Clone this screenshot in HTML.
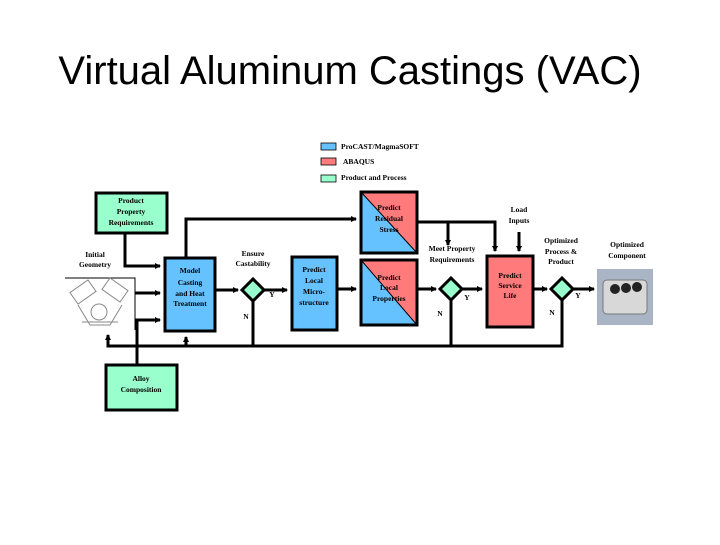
<!DOCTYPE html>
<html><head><style>
html,body{margin:0;padding:0;background:#fff;}
svg text{font-family:"Liberation Serif",serif;}
</style></head><body>
<svg width="720" height="540" xmlns="http://www.w3.org/2000/svg">
<defs>
<marker id="a" markerWidth="6" markerHeight="6" refX="5" refY="3" orient="auto" markerUnits="userSpaceOnUse"><path d="M0,0 L6,3 L0,6z" fill="#000"/></marker>
</defs>
<text x="350" y="84" font-size="40" text-anchor="middle" style="font-family:'Liberation Sans',sans-serif">Virtual Aluminum Castings (VAC)</text>
<!-- legend -->
<rect x="321" y="143" width="15" height="7" fill="#66c2ff" stroke="#000" stroke-width="0.8"/>
<rect x="321" y="158" width="15" height="7" fill="#ff7b7b" stroke="#000" stroke-width="0.8"/>
<rect x="321" y="175" width="15" height="7" fill="#99ffcc" stroke="#000" stroke-width="0.8"/>
<g font-size="7.5" font-weight="bold">
<text x="341" y="149">ProCAST/MagmaSOFT</text>
<text x="343" y="164">ABAQUS</text>
<text x="341" y="180">Product and Process</text>
</g>
<g stroke="#000" stroke-width="3" fill="none">
<polyline points="125,233 125,266 160,266" marker-end="url(#a)"/>
<polyline points="186,258 186,219 356,219" marker-end="url(#a)"/>
<line x1="135" y1="293" x2="160" y2="293" marker-end="url(#a)"/>
<polyline points="137,365 137,320 160,320" marker-end="url(#a)"/>
<line x1="215" y1="290" x2="238" y2="290" marker-end="url(#a)"/>
<line x1="264" y1="290" x2="287" y2="290" marker-end="url(#a)"/>
<line x1="337" y1="289" x2="356" y2="289" marker-end="url(#a)"/>
<line x1="417" y1="289" x2="436" y2="289" marker-end="url(#a)"/>
<line x1="462" y1="289" x2="482" y2="289" marker-end="url(#a)"/>
<line x1="533" y1="289" x2="547" y2="289" marker-end="url(#a)"/>
<line x1="573" y1="289" x2="594" y2="289" marker-end="url(#a)"/>
<polyline points="417,222 495,222 495,251" marker-end="url(#a)"/>
<line x1="448" y1="222" x2="448" y2="245" marker-end="url(#a)"/>
<line x1="519" y1="232" x2="519" y2="251" marker-end="url(#a)"/>
<polyline points="253,300 253,346 562,346 562,300"/>
<line x1="451" y1="300" x2="451" y2="346"/>
<polyline points="253,346 108,346 108,335" marker-end="url(#a)"/>
<line x1="186" y1="346" x2="186" y2="337" marker-end="url(#a)"/>
</g>
<!-- engine outline image -->
<polyline points="65,278 135,278 135,330" fill="none" stroke="#000" stroke-width="1"/>
<g fill="none" stroke="#888" stroke-width="1">
<rect x="72" y="285" width="22" height="14" transform="rotate(-35 83 292)"/>
<rect x="104" y="283" width="22" height="14" transform="rotate(35 115 290)"/>
<circle cx="99" cy="312" r="8"/>
<path d="M78,305 L90,325 L110,325 L122,305 M82,322 L118,322"/>
</g>
<!-- boxes -->
<g stroke="#000" stroke-width="3">
<rect x="96" y="193" width="71" height="40" fill="#99ffcc"/>
<rect x="165" y="258" width="50" height="73" fill="#66c2ff"/>
<rect x="292" y="257" width="45" height="73" fill="#66c2ff"/>
<rect x="487" y="256" width="46" height="71" fill="#ff7b7b"/>
<rect x="106" y="365" width="71" height="45" fill="#99ffcc"/>
</g>
<polygon points="361,192 417,192 417,253" fill="#ff7b7b"/>
<polygon points="361,192 417,253 361,253" fill="#66c2ff"/>
<line x1="361" y1="192" x2="417" y2="253" stroke="#000" stroke-width="1"/>
<rect x="361" y="192" width="56" height="61" fill="none" stroke="#000" stroke-width="3"/>
<polygon points="361,260 417,260 417,325" fill="#ff7b7b"/>
<polygon points="361,260 417,325 361,325" fill="#66c2ff"/>
<line x1="361" y1="260" x2="417" y2="325" stroke="#000" stroke-width="1"/>
<rect x="361" y="260" width="56" height="65" fill="none" stroke="#000" stroke-width="3"/>
<g fill="#99ffcc" stroke="#000" stroke-width="3">
<polygon points="253,279 264,290 253,301 242,290"/>
<polygon points="451,278 462,289 451,300 440,289"/>
<polygon points="562,278 573,289 562,300 551,289"/>
</g>
<!-- component photo -->
<rect x="597" y="269" width="56" height="56" fill="#a9b4c4"/>
<rect x="603" y="280" width="44" height="34" rx="4" fill="#d8d8d8" stroke="#777"/>
<circle cx="615" cy="289" r="5" fill="#222"/><circle cx="626" cy="288" r="5" fill="#222"/><circle cx="637" cy="287" r="5" fill="#222"/>
<g font-size="7.5" font-weight="bold" text-anchor="middle">
<text x="131" y="203">Product</text><text x="131" y="214">Property</text><text x="131" y="225">Requirements</text>
<text x="95" y="257">Initial</text><text x="95" y="267">Geometry</text>
<text x="190" y="273">Model</text><text x="190" y="285">Casting</text><text x="190" y="296">and Heat</text><text x="190" y="306">Treatment</text>
<text x="253" y="256">Ensure</text><text x="253" y="266">Castability</text>
<text x="314" y="272">Predict</text><text x="314" y="283">Local</text><text x="314" y="294">Micro-</text><text x="314" y="305">structure</text>
<text x="389" y="210">Predict</text><text x="389" y="221">Residual</text><text x="389" y="232">Stress</text>
<text x="389" y="280">Predict</text><text x="389" y="290">Local</text><text x="389" y="301">Properties</text>
<text x="519" y="212">Load</text><text x="519" y="223">Inputs</text>
<text x="452" y="251">Meet Property</text><text x="452" y="262">Requirements</text>
<text x="510" y="278">Predict</text><text x="510" y="288">Service</text><text x="510" y="298">Life</text>
<text x="561" y="243">Optimized</text><text x="561" y="254">Process &amp;</text><text x="561" y="264">Product</text>
<text x="627" y="247">Optimized</text><text x="627" y="258">Component</text>
<text x="141" y="381">Alloy</text><text x="141" y="392">Composition</text>
<text x="272" y="297">Y</text><text x="246" y="319">N</text>
<text x="467" y="300">Y</text><text x="440" y="316">N</text>
<text x="578" y="298">Y</text><text x="552" y="315">N</text>
</g>
</svg>
</body></html>
